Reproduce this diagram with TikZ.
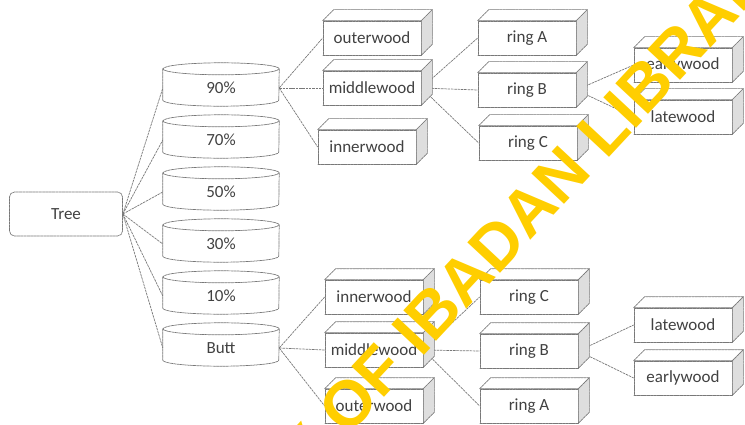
\documentclass[tikz,border=0pt]{standalone}
\usepackage{fontspec}
\newfontfamily\labelfont{Carlito}
\newfontfamily\markfont{Liberation Sans}
\usetikzlibrary{backgrounds}

\definecolor{scangray}{RGB}{120,120,120}
\definecolor{inkgray}{RGB}{65,65,65}
\definecolor{sidegray}{RGB}{222,222,222}
\definecolor{markyellow}{RGB}{255,206,0}

\tikzset{
  scanline/.style={draw=scangray,line width=.7pt,dash pattern=on 2.5pt off .8pt},
  rootbox/.style={scanline,rounded corners=5pt,minimum width=113pt,
    minimum height=44pt,inner sep=0pt},
  disk/.style={minimum width=116pt,minimum height=36pt,inner sep=0pt},
  woodbox/.style={scanline,fill=white,minimum width=98pt,minimum height=34pt,
    inner sep=0pt},
  link/.style={scanline},
}

\begin{document}
\begin{tikzpicture}[x=1pt,y=-1pt,line cap=round,line join=round,
    every node/.style={font=\labelfont\fontsize{17}{20}\selectfont,text=inkgray}]
  \useasboundingbox (0,0) rectangle (745,425);

  % The whole tree.
  \node[rootbox] (tree) at (66,214) {Tree};

  % Height classes, from the top down to the butt.
  \node[disk] (h90) at (221,88) {90\%};
  \node[disk] (h70) at (221,140) {70\%};
  \node[disk] (h50) at (221,192) {50\%};
  \node[disk] (h30) at (221,244) {30\%};
  \node[disk] (h10) at (221,296) {10\%};
  \node[disk] (butt) at (221,348) {Butt};
  \foreach \d in {h90,h70,h50,h30,h10,butt}{
    \draw[scanline] ([yshift=1pt]\d.north west) -- ([yshift=6pt]\d.south west)
      arc[start angle=180,end angle=360,x radius=58pt,y radius=6pt]
      -- ([yshift=1pt]\d.north east)
      arc[start angle=0,end angle=180,x radius=58pt,y radius=6pt];
    \draw[scanline] ([yshift=1pt]\d.north west)
      arc[start angle=180,end angle=360,x radius=58pt,y radius=6pt];
  }

  % Radial zones and rings of the 90% disc.
  \node[woodbox] (ow1) at (372,38) {outerwood};
  \node[woodbox] (mw1) at (372,88) {middlewood};
  \node[woodbox] (iw1) at (367,147) {innerwood};
  \node[woodbox] (ra1) at (527,38) {ring A};
  \node[woodbox] (rb1) at (527,90) {ring B};
  \node[woodbox] (rc1) at (528,143) {ring C};
  \node[woodbox] (ew1) at (683,65) {earlywood};
  \node[woodbox] (lw1) at (683,117) {latewood};

  % Radial zones and rings of the butt disc.
  \node[woodbox] (iw2) at (374,297) {innerwood};
  \node[woodbox] (mw2) at (374,350) {middlewood};
  \node[woodbox] (ow2) at (374,406) {outerwood};
  \node[woodbox] (rc2) at (529,297) {ring C};
  \node[woodbox] (rb2) at (529,351) {ring B};
  \node[woodbox] (ra2) at (529,406) {ring A};
  \node[woodbox] (lw2) at (683,325) {latewood};
  \node[woodbox] (ew2) at (683,378) {earlywood};

  % Top and side faces give the boxes their depth.
  \foreach \b in {ow1,mw1,iw1,ra1,rb1,rc1,ew1,lw1,iw2,mw2,ow2,rc2,rb2,ra2,lw2,ew2}{
    \filldraw[scanline,fill=white] (\b.north west) -- ++(11pt,11pt)
      -- ([shift={(11pt,11pt)}]\b.north east) -- (\b.north east) -- cycle;
    \filldraw[scanline,fill=sidegray] (\b.north east) -- ++(11pt,11pt)
      -- ([shift={(11pt,11pt)}]\b.south east) -- (\b.south east) -- cycle;
  }

  % Connectors, kept behind the boxes.
  \begin{scope}[on background layer]
    \foreach \d in {h90,h70,h50,h30,h10,butt}
      \draw[link] (tree.east) -- (\d.west);
    \foreach \b in {ow1,mw1,iw1}
      \draw[link] (h90.east) -- (\b.west);
    \foreach \b in {ra1,rb1,rc1}
      \draw[link] (mw1.east) -- (\b.west);
    \foreach \b in {ew1,lw1}
      \draw[link] (rb1.east) -- (\b.west);
    \foreach \b in {iw2,mw2,ow2}
      \draw[link] (butt.east) -- (\b.west);
    \foreach \b in {rc2,rb2,ra2}
      \draw[link] (mw2.east) -- (\b.west);
    \foreach \b in {lw2,ew2}
      \draw[link] (rb2.east) -- (\b.west);
  \end{scope}

  % Library stamp across the scan.
  \begin{scope}
    \clip (0,0) rectangle (745,425);
    \node[font=\markfont\bfseries\fontsize{65}{67}\selectfont,text=markyellow,
      rotate=47,anchor=base west,inner sep=0pt] (stamp) at (69,736)
      {UNIVERSITY OF IBADAN LIBRARY};
  \end{scope}
\end{tikzpicture}
\end{document}
